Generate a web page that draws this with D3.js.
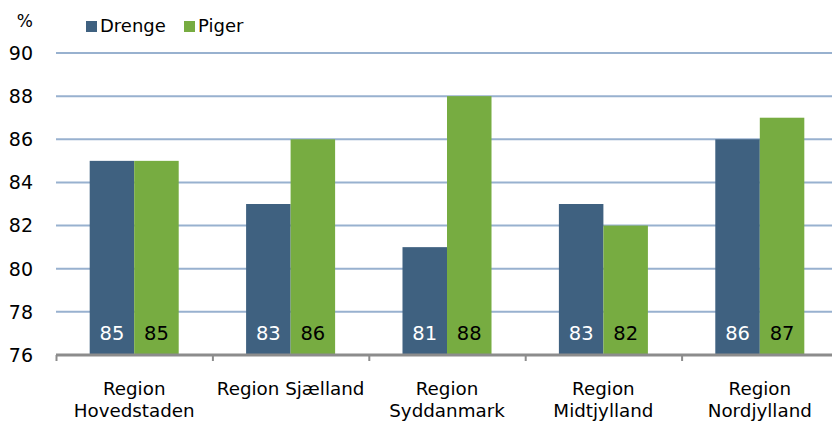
<!DOCTYPE html>
<html>
<head>
<meta charset="utf-8">
<script src="https://cdn.jsdelivr.net/npm/d3@7"></script>
<style>
  html, body { margin: 0; padding: 0; background: #fff; overflow: hidden; }
  svg { display: block; font-family: "DejaVu Sans", sans-serif; }
</style>
</head>
<body>
<svg id="chart" width="832" height="421"></svg>
<script>
// Regions (two-line labels) and shares for boys and girls, in percent
const regions = [
  ["Region", "Hovedstaden"],
  ["Region Sjælland"],
  ["Region", "Syddanmark"],
  ["Region", "Midtjylland"],
  ["Region", "Nordjylland"]
];
const seriesNames = ["Drenge", "Piger"];
const drenge = [85, 83, 81, 83, 86];
const piger = [85, 86, 88, 82, 87];
const yTicks = [76, 78, 80, 82, 84, 86, 88, 90];
const colors = ["#3f6180", "#77ac41"];
const labelColors = ["#ffffff", "#000000"];

const svg = d3.select("#chart");
const W = 832, H = 421;
const plotLeft = 56, plotRight = 838, plotTop = 53, plotBottom = 355;

const x0 = d3.scaleBand()
  .domain(d3.range(regions.length))
  .range([plotLeft, plotRight])
  .paddingInner(0).paddingOuter(0);

const x1 = d3.scaleBand()
  .domain(seriesNames)
  .range([0, x0.bandwidth()])
  .paddingOuter(0.757).paddingInner(0);

const y = d3.scaleLinear().domain([76, 90]).range([plotBottom, plotTop]);

// Horizontal gridlines
svg.append("g")
  .selectAll("line")
  .data(yTicks.filter(t => t > 76))
  .join("line")
  .attr("x1", plotLeft).attr("x2", W)
  .attr("y1", d => y(d)).attr("y2", d => y(d))
  .attr("stroke", "#98b1cf").attr("stroke-width", 2);

// Y tick labels
svg.append("g")
  .selectAll("text")
  .data(yTicks)
  .join("text")
  .attr("x", 33).attr("y", d => y(d))
  .attr("dy", "0.36em")
  .attr("text-anchor", "end")
  .attr("font-size", 19)
  .attr("fill", "#000")
  .text(d => d);

svg.append("text")
  .attr("x", 33).attr("y", 27)
  .attr("text-anchor", "end")
  .attr("font-size", 17)
  .text("%");

// Bars
const rows = regions.map((r, i) => ({ i, vals: [drenge[i], piger[i]] }));
const groups = svg.append("g")
  .selectAll("g")
  .data(rows)
  .join("g")
  .attr("transform", d => `translate(${x0(d.i)},0)`);

groups.selectAll("rect")
  .data(d => d.vals.map((v, k) => ({ v, k })))
  .join("rect")
  .attr("x", d => x1(seriesNames[d.k]))
  .attr("width", x1.bandwidth())
  .attr("y", d => y(d.v))
  .attr("height", d => y(76) - y(d.v))
  .attr("fill", d => colors[d.k]);

groups.selectAll("text.val")
  .data(d => d.vals.map((v, k) => ({ v, k })))
  .join("text")
  .attr("class", "val")
  .attr("x", d => x1(seriesNames[d.k]) + x1.bandwidth() / 2)
  .attr("y", 340)
  .attr("text-anchor", "middle")
  .attr("font-size", 19.5)
  .attr("fill", d => labelColors[d.k])
  .text(d => d.v);

// X axis baseline and ticks
const axis = svg.append("g");
axis.append("line")
  .attr("x1", plotLeft).attr("x2", W)
  .attr("y1", y(76)).attr("y2", y(76))
  .attr("stroke", "#8c8c8c").attr("stroke-width", 3);
axis.selectAll("line.tick")
  .data(d3.range(regions.length))
  .join("line")
  .attr("class", "tick")
  .attr("x1", i => x0(i) + 0.5)
  .attr("x2", i => x0(i) + 0.5)
  .attr("y1", y(76)).attr("y2", y(76) + 6)
  .attr("stroke", "#8c8c8c").attr("stroke-width", 2);

// Category labels
svg.append("g")
  .selectAll("text")
  .data(regions.map((r, i) => ({ r, i })))
  .join("text")
  .attr("x", d => x0(d.i) + x0.bandwidth() / 2)
  .attr("y", 395)
  .attr("text-anchor", "middle")
  .attr("font-size", 18.3)
  .attr("fill", "#000")
  .selectAll("tspan")
  .data(d => d.r)
  .join("tspan")
  .attr("x", function () { return d3.select(this.parentNode).attr("x"); })
  .attr("dy", (d, j) => j === 0 ? 0 : 22)
  .text(d => d);

// Legend
const legend = svg.append("g");
const legendX = [86, 184];
seriesNames.forEach((name, k) => {
  legend.append("rect")
    .attr("x", legendX[k]).attr("y", 21)
    .attr("width", 11).attr("height", 11)
    .attr("fill", colors[k]);
  legend.append("text")
    .attr("x", legendX[k] + 14).attr("y", 32)
    .attr("font-size", 18)
    .text(name);
});
</script>
</body>
</html>
